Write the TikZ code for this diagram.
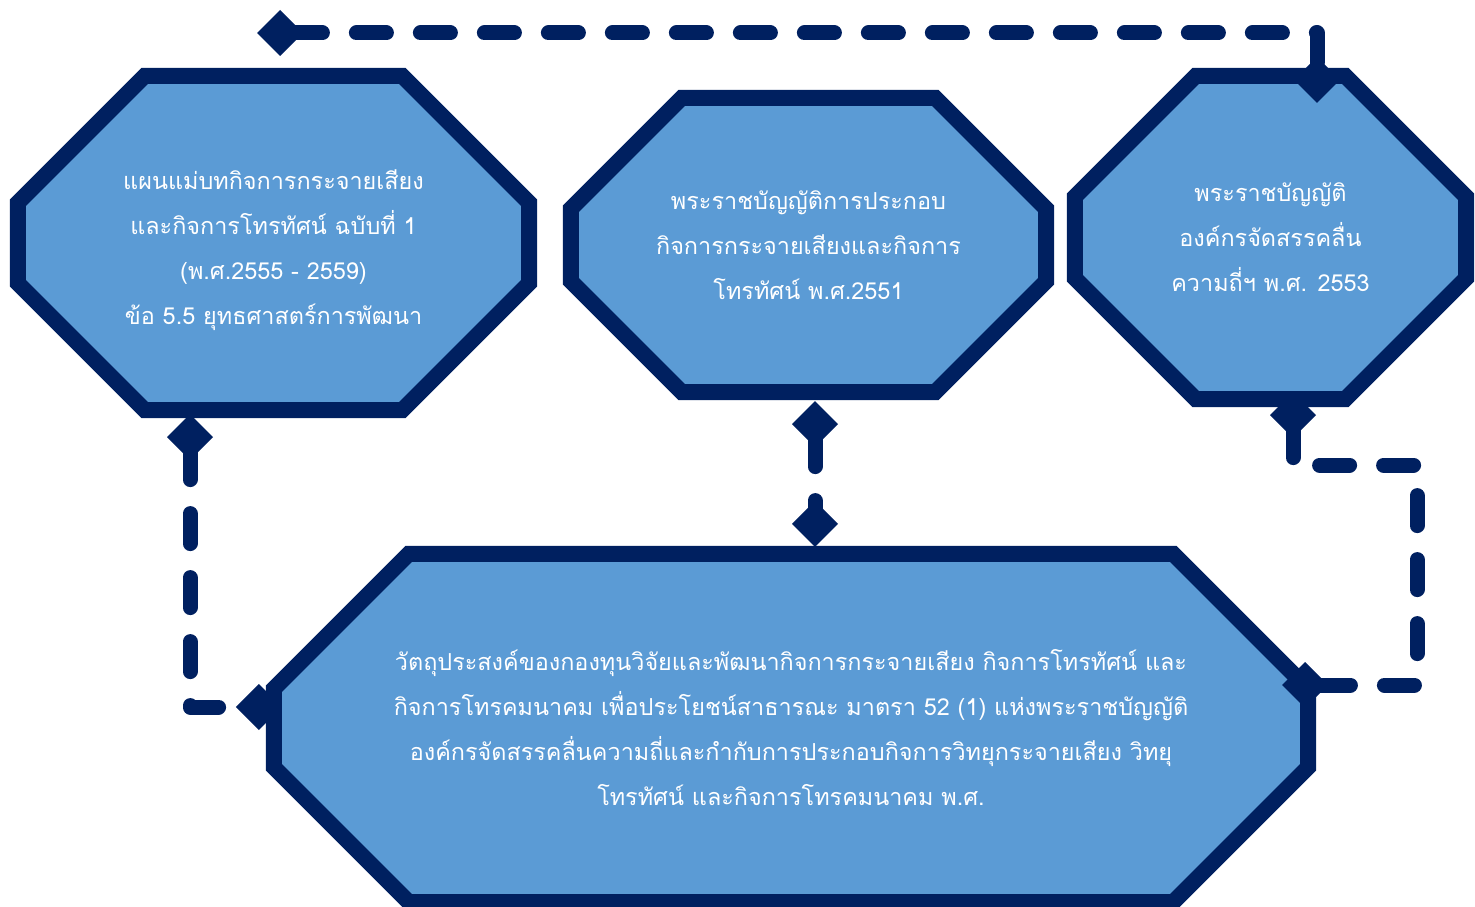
\documentclass[tikz,border=0pt]{standalone}
\usepackage{fontspec}
\newfontfamily\thaifont[Script=Thai]{Loma}
\usetikzlibrary{arrows.meta,calc}
\definecolor{navy}{RGB}{0,32,96}
\definecolor{boxblue}{RGB}{91,155,213}
\tikzset{
 octnode/.style={rectangle, inner sep=0pt},
 octtext/.style={inner sep=0pt, text=white, align=center, font=\thaifont\fontsize{23.4pt}{45pt}\selectfont},
 octline/.style={draw=navy, fill=boxblue, line width=16pt, line join=miter},
 conn/.style={draw=navy, line width=15pt, line cap=round, line join=round, dash pattern=on 30pt off 34pt, {Diamond[length=46pt,width=46pt]}-{Diamond[length=46pt,width=46pt]}},
}
\newcommand{\octagonof}[2]{%
 \path[octline] ($(#1.north west)+(#2,0)$) -- ($(#1.north east)+(-#2,0)$) -- ($(#1.north east)+(0,#2)$) -- ($(#1.south east)+(0,-#2)$) -- ($(#1.south east)+(-#2,0)$) -- ($(#1.south west)+(#2,0)$) -- ($(#1.south west)+(0,-#2)$) -- ($(#1.north west)+(0,#2)$) -- cycle;}
\begin{document}
\begin{tikzpicture}[x=1pt,y=-1pt]
\useasboundingbox (0,0) rectangle (1475,907);
\node[octnode, minimum width=511pt, minimum height=334pt] (n1) at (273.5,243) {};
\node[octnode, minimum width=475pt, minimum height=294pt] (n2) at (808.5,245) {};
\node[octnode, minimum width=391pt, minimum height=323pt] (n3) at (1270.5,237.5) {};
\node[octnode, minimum width=1034pt, minimum height=348pt] (n4) at (791,728) {};
\octagonof{n1}{127}
\octagonof{n2}{111}
\octagonof{n3}{121}
\octagonof{n4}{135}
\node[octtext] (t1) at ($(n1.center)+(0,7)$) {แผนแม่บทกิจการกระจายเสียง\\และกิจการโทรทัศน์ ฉบับที่ 1\\(พ.ศ.2555 - 2559)\\ข้อ 5.5 ยุทธศาสตร์การพัฒนา};
\node[octtext] (t2) at (n2.center) {พระราชบัญญัติการประกอบ\\กิจการกระจายเสียงและกิจการ\\โทรทัศน์ พ.ศ.2551};
\node[octtext] (t3) at (n3.center) {พระราชบัญญัติ\\องค์กรจัดสรรคลื่น\\ความถี่ฯ พ.ศ. 2553};
\node[octtext] (t4) at (n4.center) {วัตถุประสงค์ของกองทุนวิจัยและพัฒนากิจการกระจายเสียง กิจการโทรทัศน์ และ\\กิจการโทรคมนาคม เพื่อประโยชน์สาธารณะ มาตรา 52 (1) แห่งพระราชบัญญัติ\\องค์กรจัดสรรคลื่นความถี่และกำกับการประกอบกิจการวิทยุกระจายเสียง วิทยุ\\โทรทัศน์ และกิจการโทรคมนาคม พ.ศ.};
\coordinate (tl) at (257,33);
\coordinate (n3top) at ($(n3.north)+(46.5,27)$);
\draw[conn] (tl) -| (n3top);
\coordinate (n1out) at ($(n1.south)+(-83.5,4)$);
\coordinate (n4left) at ($(n4.west)+(8,-21)$);
\draw[conn] (n1out) |- (n4left);
\coordinate (n2out) at ($(n2.south)+(6.5,9)$);
\coordinate (n4top) at ($(n4.north)+(24,-7)$);
\draw[conn] (n2out) -- (n4top);
\coordinate (n3out) at ($(n3.south)+(22.5,-7)$);
\coordinate (rc) at (1417,465);
\coordinate (n4right) at ($(n4.east)+(-26,-43)$);
\draw[conn] (n3out) |- (rc) |- (n4right);
\end{tikzpicture}
\end{document}
